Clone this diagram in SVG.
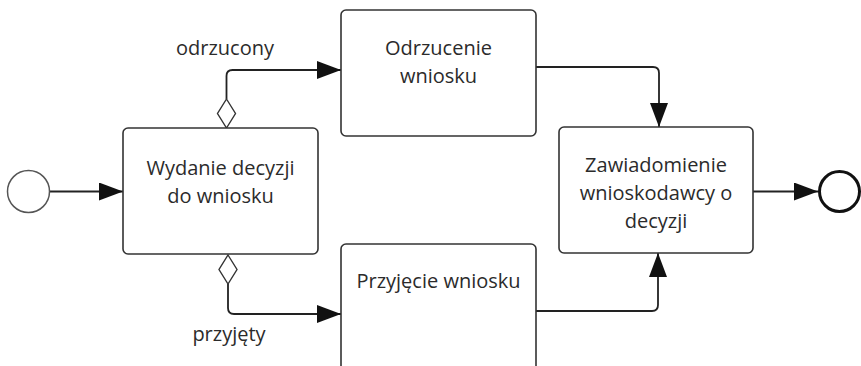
<svg xmlns="http://www.w3.org/2000/svg" width="861" height="366" viewBox="0 0 861 366">
<defs>
<marker id="arr" viewBox="0 0 24 18" refX="24" refY="9" markerWidth="24" markerHeight="18" markerUnits="userSpaceOnUse" orient="auto">
<path d="M0,0 L24,9 L0,18 Z" fill="#111"/>
</marker>
</defs>
<style>
.box{fill:#fff;stroke:#333;stroke-width:1.6}
.t{font-family:"Open Sans","Liberation Sans",sans-serif;font-size:20px;fill:#2b2b2b;text-anchor:middle}
.c{fill:none;stroke:#222;stroke-width:1.8}
.dia{fill:#fff;stroke:#333;stroke-width:1.4}
</style>
<rect width="861" height="366" fill="#fff"/>
<g id="connectors">
<path class="c" d="M49.5,191.5 H123" marker-end="url(#arr)"/>
<path class="c" d="M226.5,99 V76 Q226.5,70 232.5,70 H341" marker-end="url(#arr)"/>
<path class="c" d="M228,284 V308 Q228,314 234,314 H341" marker-end="url(#arr)"/>
<path class="c" d="M536,67 H653 Q659,67 659,73 V127" marker-end="url(#arr)"/>
<path class="c" d="M536,311 H652 Q658,311 658,305 V253" marker-end="url(#arr)"/>
<path class="c" d="M753,191.5 H818" marker-end="url(#arr)"/>
<path class="dia" d="M226.5,99 L235.5,113.5 L226.5,128 L217.5,113.5 Z"/>
<path class="dia" d="M228,255 L237,269.5 L228,284 L219,269.5 Z"/>
<text class="t" x="225" y="55">odrzucony</text>
<text class="t" x="229" y="341">przyjęty</text>
</g>
<g id="start">
<circle cx="28.5" cy="191.5" r="21" fill="#fff" stroke="#555" stroke-width="1.5"/>
</g>
<g id="wydanie">
<rect class="box" x="123" y="128" width="195" height="126" rx="5"/>
<text class="t" x="220.5" y="175">Wydanie decyzji</text>
<text class="t" x="220.5" y="203">do wniosku</text>
</g>
<g id="odrzucenie">
<rect class="box" x="341" y="10" width="195" height="126" rx="5"/>
<text class="t" x="438.5" y="55">Odrzucenie</text>
<text class="t" x="438.5" y="83">wniosku</text>
</g>
<g id="przyjecie">
<rect class="box" x="341" y="244" width="195" height="130" rx="5"/>
<text class="t" x="438.5" y="288">Przyjęcie wniosku</text>
</g>
<g id="zawiadomienie">
<rect class="box" x="559" y="127" width="194" height="126" rx="5"/>
<text class="t" x="656" y="172">Zawiadomienie</text>
<text class="t" x="656" y="200">wnioskodawcy o</text>
<text class="t" x="656" y="228">decyzji</text>
</g>
<g id="end">
<circle cx="839.5" cy="191.5" r="20" fill="#fff" stroke="#111" stroke-width="3"/>
</g>
</svg>
